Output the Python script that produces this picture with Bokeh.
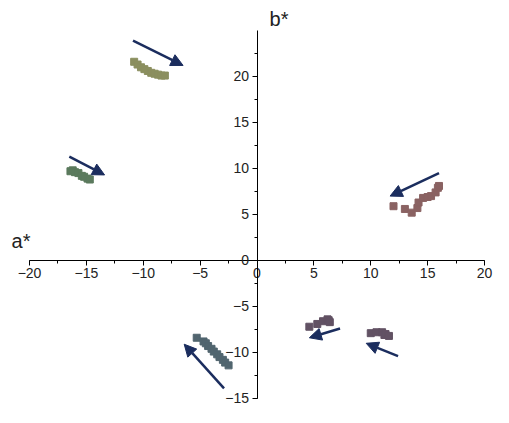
from bokeh.plotting import figure
from bokeh.models import LinearAxis, SingleIntervalTicker, Range1d, Label, Arrow, NormalHead
from bokeh.embed import file_html
from bokeh.resources import INLINE

# ---- data ----
olive_a = [-10.8, -10.5, -10.2, -9.9, -9.6, -9.3, -9.0, -8.7, -8.4, -8.1]
olive_b = [21.6, 21.3, 21.0, 20.8, 20.6, 20.4, 20.3, 20.2, 20.1, 20.1]

green_a = [-16.4, -16.2, -16.0, -15.7, -15.4, -15.2, -14.9, -14.7]
green_b = [9.7, 9.8, 9.6, 9.5, 9.2, 9.1, 8.9, 8.8]

brown_a = [12.0, 13.0, 13.6, 14.1, 14.2, 14.6, 15.0, 15.3, 15.7, 15.9, 16.0]
brown_b = [5.9, 5.6, 5.2, 5.7, 6.3, 6.8, 6.9, 7.0, 7.4, 7.9, 8.1]

purple1_a = [4.6, 5.3, 5.8, 6.2, 6.3, 6.4]
purple1_b = [-7.2, -6.9, -6.6, -6.4, -6.5, -6.7]

purple2_a = [10.0, 10.5, 11.0, 11.2, 11.3, 11.6]
purple2_b = [-7.9, -7.8, -7.8, -8.1, -8.0, -8.2]

slate_a = [-5.3, -4.7, -4.5, -4.3, -4.0, -3.8, -3.5, -3.3, -3.0, -2.8, -2.5]
slate_b = [-8.4, -8.8, -9.0, -9.3, -9.6, -9.9, -10.2, -10.5, -10.8, -11.1, -11.4]

arrow_a_start = [-10.9, -16.5, 16.0, 7.3, 12.4, -2.9]
arrow_b_start = [23.9, 11.3, 9.5, -7.4, -10.4, -13.9]
arrow_a_end = [-6.5, -13.4, 11.7, 4.6, 9.6, -6.4]
arrow_b_end = [21.2, 9.3, 7.0, -8.4, -9.0, -9.1]

a_bounds = (-20, 20)
b_bounds = (-15, 24.99)
tick_interval = 5

series = [
    (olive_a, olive_b, "#8b8f5f"),
    (green_a, green_b, "#5b7a5d"),
    (brown_a, brown_b, "#8a6262"),
    (purple1_a, purple1_b, "#625264"),
    (purple2_a, purple2_b, "#625264"),
    (slate_a, slate_b, "#51656f"),
]

p = figure(width=493, height=407, output_backend="svg", toolbar_location=None,
           x_range=Range1d(-22.55, 20.79), y_range=Range1d(-15.98, 28.26),
           x_axis_type=None, y_axis_type=None,
           min_border_left=0, min_border_right=0, min_border_top=0, min_border_bottom=0)
p.outline_line_color = None
p.xgrid.visible = False
p.ygrid.visible = False
p.background_fill_color = "white"
p.border_fill_color = "white"

def style_axis(ax):
    ax.axis_line_color = "black"
    ax.axis_line_width = 1
    ax.major_tick_line_color = "black"
    ax.minor_tick_line_color = "black"
    ax.major_tick_in = 0
    ax.major_tick_out = 5
    ax.minor_tick_in = 0
    ax.minor_tick_out = 3
    ax.major_label_text_font = "Liberation Sans"
    ax.major_label_text_font_size = "14px"
    ax.major_label_text_color = "#222222"
    ax.major_label_standoff = 3

xaxis = LinearAxis(fixed_location=0, bounds=a_bounds,
                   ticker=SingleIntervalTicker(interval=tick_interval, num_minor_ticks=2))
yaxis = LinearAxis(fixed_location=0, bounds=b_bounds,
                   ticker=SingleIntervalTicker(interval=tick_interval, num_minor_ticks=2))
style_axis(xaxis)
style_axis(yaxis)
p.add_layout(xaxis, "below")
p.add_layout(yaxis, "left")

for xa, yb, col in series:
    p.scatter(xa, yb, marker="square", size=7, fill_color=col, line_color=col)

for xs, ys, xe, ye in zip(arrow_a_start, arrow_b_start, arrow_a_end, arrow_b_end):
    p.add_layout(Arrow(end=NormalHead(size=12, fill_color="#1b2d5e", line_color="#1b2d5e"),
                       x_start=xs, y_start=ys, x_end=xe, y_end=ye,
                       line_color="#1b2d5e", line_width=2.5))

p.add_layout(Label(x=-21.58, y=0.87, text="a*", text_font="Liberation Sans",
                   text_font_size="20px", text_color="#222222"))
p.add_layout(Label(x=1.1, y=25.1, text="b*", text_font="Liberation Sans",
                   text_font_size="20px", text_color="#222222"))

open("out.html", "w").write(file_html(p, INLINE))
